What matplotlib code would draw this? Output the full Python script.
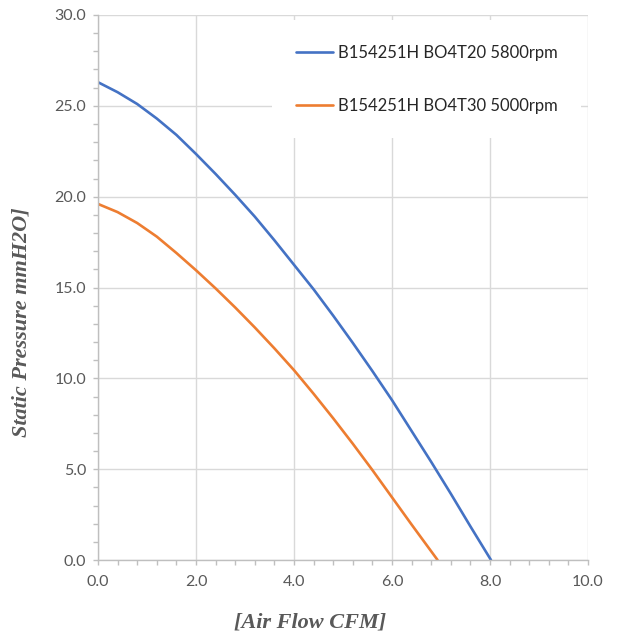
import matplotlib
matplotlib.use("Agg")
import matplotlib.pyplot as plt
from matplotlib.ticker import MultipleLocator, FormatStrFormatter

# 數據
flow_a = [0.0, 0.4, 0.8, 1.2, 1.6, 2.0, 2.4, 2.8, 3.2, 3.6, 4.0, 4.4, 4.8, 5.2, 5.6, 6.0, 6.4, 6.8, 7.2, 7.6, 8.02]
pressure_a = [26.3, 25.75, 25.1, 24.3, 23.4, 22.35, 21.25, 20.1, 18.9, 17.6, 16.25, 14.9, 13.45, 11.95, 10.4, 8.8, 7.1, 5.4, 3.65, 1.85, 0.0]

flow_b = [0.0, 0.4, 0.8, 1.2, 1.6, 2.0, 2.4, 2.8, 3.2, 3.6, 4.0, 4.4, 4.8, 5.2, 5.6, 6.0, 6.4, 6.93]
pressure_b = [19.6, 19.15, 18.55, 17.8, 16.9, 15.95, 14.95, 13.9, 12.8, 11.65, 10.45, 9.15, 7.8, 6.4, 4.95, 3.45, 1.95, 0.0]

labels = ["B154251H BO4T20 5800rpm", "B154251H BO4T30 5000rpm"]
colors = ["#4472C4", "#ED7D31"]

tick_font = "Lato"
gray_txt = "#595959"

fig = plt.figure(figsize=(6.23, 6.39), dpi=100)
ax = fig.add_axes([98 / 623, 1 - 560 / 639, 490 / 623, 545 / 639])

ax.plot(flow_a, pressure_a, color=colors[0], linewidth=1.9, label=labels[0],
        solid_joinstyle="round", solid_capstyle="round")
ax.plot(flow_b, pressure_b, color=colors[1], linewidth=1.9, label=labels[1],
        solid_joinstyle="round", solid_capstyle="round")

ax.set_xlim(0, 10)
ax.set_ylim(0, 30)
ax.xaxis.set_major_locator(MultipleLocator(2))
ax.xaxis.set_minor_locator(MultipleLocator(0.4))
ax.yaxis.set_major_locator(MultipleLocator(5))
ax.yaxis.set_minor_locator(MultipleLocator(1))
ax.xaxis.set_major_formatter(FormatStrFormatter("%.1f"))
ax.yaxis.set_major_formatter(FormatStrFormatter("%.1f"))

ax.grid(which="major", color="#D9D9D9", linewidth=1.0)
ax.set_axisbelow(True)

for side in ["top", "right"]:
    ax.spines[side].set_visible(False)
for side in ["left", "bottom"]:
    ax.spines[side].set_color("#BFBFBF")
    ax.spines[side].set_linewidth(1.0)

ax.tick_params(which="both", direction="out", color="#BFBFBF", width=1.0, length=3.6)
ax.tick_params(axis="y", pad=5)
ax.tick_params(axis="x", pad=7)
for lbl in ax.get_xticklabels() + ax.get_yticklabels():
    lbl.set_fontfamily(tick_font)
    lbl.set_fontsize(11.5)
    lbl.set_color(gray_txt)

leg = ax.legend(loc="upper left", bbox_to_anchor=(0.355, 0.5, 0.63, 0.49),
                mode="expand", borderaxespad=0, borderpad=1.45, frameon=True, fancybox=False,
                handlelength=2.2, handletextpad=0.3, labelspacing=2.25,
                prop={"family": tick_font, "size": 12})
leg.get_frame().set_edgecolor("none")
leg.get_frame().set_facecolor("white")
leg.get_frame().set_alpha(1)
for t in leg.get_texts():
    t.set_color("#262626")

fig.text(310 / 623, 1 - 622 / 639, "[Air Flow CFM]", ha="center", va="center",
         fontfamily="Liberation Serif", fontstyle="italic", fontweight="bold",
         fontsize=16, color=gray_txt)
fig.text(22 / 623, 1 - 322 / 639, "Static Pressure mmH2O]", ha="center", va="center",
         rotation=90, fontfamily="Liberation Serif", fontstyle="italic", fontweight="bold",
         fontsize=16, color=gray_txt)

fig.savefig("out.png", dpi=100)
